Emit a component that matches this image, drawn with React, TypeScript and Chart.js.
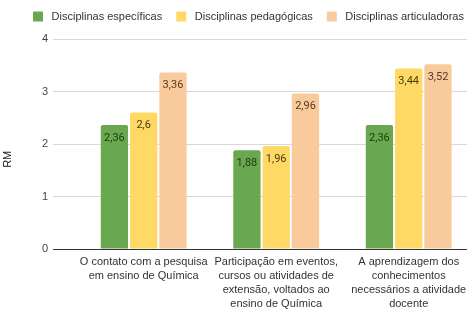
import React, { useEffect, useRef } from 'react';
import { Chart, registerables } from 'chart.js';

Chart.register(...registerables);

// ---- data ----
const CATEGORIES: string[][] = [
  ['O contato com a pesquisa', 'em ensino de Química'],
  ['Participação em eventos,', 'cursos ou atividades de', 'extensão, voltados ao', 'ensino de Química'],
  ['A aprendizagem dos', 'conhecimentos', 'necessários a atividade', 'docente'],
];
const SERIES_NAMES = ['Disciplinas específicas', 'Disciplinas pedagógicas', 'Disciplinas articuladoras'];
const ESPECIFICAS = [2.36, 1.88, 2.36];
const PEDAGOGICAS = [2.6, 1.96, 3.44];
const ARTICULADORAS = [3.36, 2.96, 3.52];
const Y_MIN = 0;
const Y_MAX = 4;
const Y_STEP = 1;
const Y_TITLE = 'RM';

// ---- styles ----
const COLORS = ['#6aa84f', '#ffd966', '#f9cb9c'];
const LABEL_COLORS = ['#1d3a12', '#4a3b08', '#55391f'];
const FONT = "'Liberation Sans', Arial, sans-serif";
const X_MIN = -0.6845;
const X_MAX = 2.44;

const fmt = (v: number) => String(v).replace('.', ',');

const valueLabels = {
  id: 'valueLabels',
  afterDatasetsDraw(chart: any) {
    const ctx = chart.ctx;
    chart.data.datasets.forEach((ds: any, di: number) => {
      const meta = chart.getDatasetMeta(di);
      meta.data.forEach((bar: any, i: number) => {
        const v = ds.data[i].y;
        ctx.save();
        ctx.font = "11px Roboto, 'Liberation Sans', sans-serif";
        ctx.fillStyle = LABEL_COLORS[di];
        ctx.textAlign = 'center';
        ctx.textBaseline = 'middle';
        ctx.fillText(fmt(v), bar.x, bar.y + 13);
        ctx.restore();
      });
    });
  },
};

const legendSpacing = {
  id: 'legendSpacing',
  beforeLayout(chart: any) {
    const legend = chart.legend;
    if (legend && !legend._patchedFit) {
      const orig = legend.fit;
      legend.fit = function () {
        const mw = this.maxWidth;
        this.maxWidth = mw + 60;
        orig.call(this);
        this.maxWidth = mw;
        this.width = Math.min(this.width, mw);
        this.height += 7;
      };
      legend._patchedFit = true;
    }
  },
  afterLayout(chart: any) {
    const legend = chart.legend;
    if (legend) {
      legend.left -= 30;
      legend.right += 30;
      legend.width += 60;
    }
  },
};

export default function App() {
  const ref = useRef<HTMLCanvasElement | null>(null);

  useEffect(() => {
    if (!ref.current) return;
    const series = [ESPECIFICAS, PEDAGOGICAS, ARTICULADORAS];
    const chart = new Chart(ref.current, {
      type: 'bar',
      data: {
        datasets: series.map((vals, si) => ({
          label: SERIES_NAMES[si],
          data: vals.map((v, i) => ({ x: i, y: v })),
          backgroundColor: COLORS[si],
          borderWidth: 0,
          borderRadius: 2,
          categoryPercentage: 0.663,
          barPercentage: 0.932,
        })),
      },
      options: {
        responsive: false,
        devicePixelRatio: 1,
        animation: false,
        events: [],
        layout: { padding: { left: 30, right: 9, top: -3, bottom: 0 } },
        plugins: {
          tooltip: { enabled: false },
          legend: {
            position: 'top',
            align: 'center',
            labels: {
              boxWidth: 10,
              boxHeight: 10,
              padding: 14,
              color: '#333',
              font: { family: FONT, size: 11 },
              generateLabels: (chart: any) =>
                Chart.defaults.plugins.legend.labels.generateLabels(chart).map((l: any) => ({
                  ...l,
                  text: ' ' + l.text,
                })),
            },
          },
        },
        scales: {
          x: {
            type: 'linear',
            min: X_MIN,
            max: X_MAX,
            offset: false,
            grid: { display: false, drawTicks: false, offset: false },
            border: { display: false },
            afterBuildTicks: (scale: any) => {
              scale.ticks = CATEGORIES.map((_, i) => ({ value: i }));
            },
            afterFit: (scale: any) => {
              scale.height = 60;
            },
            ticks: {
              autoSkip: false,
              maxRotation: 0,
              minRotation: 0,
              padding: 6.5,
              color: '#333',
              font: { family: FONT, size: 11, lineHeight: 1.25 },
              callback: (v: any) => CATEGORIES[Math.round(Number(v))] ?? '',
            },
          },
          y: {
            min: Y_MIN,
            max: Y_MAX,
            afterFit: (scale: any) => {
              scale.width = 23;
            },
            ticks: {
              stepSize: Y_STEP,
              padding: 5,
              color: '#444',
              font: { family: FONT, size: 11 },
            },
            grid: {
              drawTicks: false,
              color: (c: any) => (c.tick && c.tick.value === 0 ? '#333333' : '#d9d9d9'),
              lineWidth: 1,
            },
            border: { display: false },
            title: {
              display: true,
              text: Y_TITLE + '          ',
              color: '#222',
              font: { family: FONT, size: 11 },
              padding: { top: -29, bottom: 0 },
            },
          },
        },
      },
      plugins: [valueLabels, legendSpacing],
    } as any);
    return () => chart.destroy();
  }, []);

  return (
    <div style={{ position: 'absolute', left: 0, top: 0, width: 476, height: 309, background: '#fff' }}>
      <canvas ref={ref} width={476} height={309} style={{ display: 'block' }} />
    </div>
  );
}
